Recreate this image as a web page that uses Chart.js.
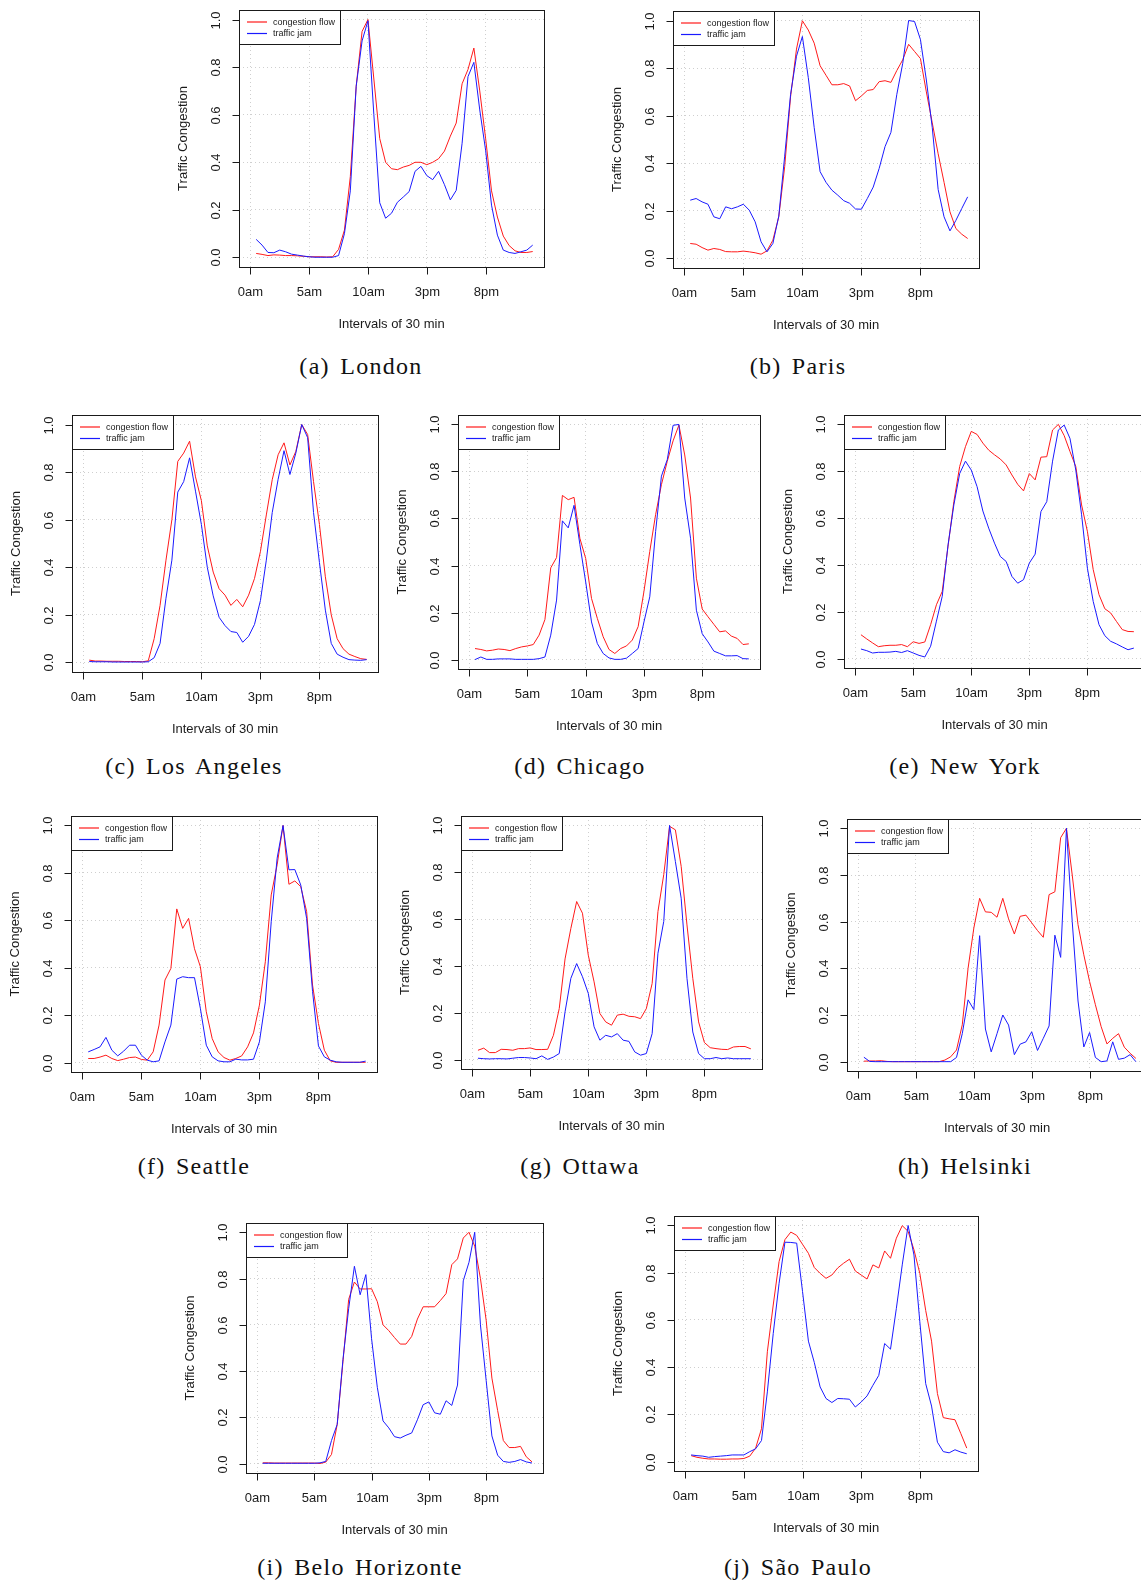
<!DOCTYPE html>
<html><head><meta charset="utf-8">
<script src="https://cdn.jsdelivr.net/npm/chart.js@4.4.0/dist/chart.umd.min.js"></script>
<style>
html,body{margin:0;padding:0;background:#fff;width:1141px;height:1585px;overflow:hidden;position:relative}
canvas{position:absolute}
.cap{position:absolute;font-family:"Liberation Serif","Times New Roman",serif;font-size:24px;color:#111;white-space:pre;transform:translate(-50%,-50%);letter-spacing:1.3px;word-spacing:3px}
</style></head><body>
<script>
// ---- data ----
const xValues = [1,2,3,4,5,6,7,8,9,10,11,12,13,14,15,16,17,18,19,20,21,22,23,24,25,26,27,28,29,30,31,32,33,34,35,36,37,38,39,40,41,42,43,44,45,46,47,48];
const xTickValues = [0,10,20,30,40];
const xTickLabels = ['0am','5am','10am','3pm','8pm'];
const yTickValues = [0,0.2,0.4,0.6,0.8,1.0];
const yTickLabels = ['0.0','0.2','0.4','0.6','0.8','1.0'];
const seriesNames = ['congestion flow','traffic jam'];
const xTitle = 'Intervals of 30 min';
const yTitle = 'Traffic Congestion';
const cityNames = ['London','Paris','Los Angeles','Chicago','New York','Seattle','Ottawa','Helsinki','Belo Horizonte','São Paulo'];
const panelLetters = ['a','b','c','d','e','f','g','h','i','j'];

const londonFlow = [0.017,0.013,0.008,0.011,0.010,0.008,0.008,0.007,0.005,0.003,0.003,0.003,0.002,0.003,0.034,0.115,0.34,0.72,0.95,1.0,0.75,0.50,0.40,0.373,0.369,0.38,0.387,0.40,0.40,0.39,0.40,0.415,0.447,0.51,0.565,0.73,0.79,0.88,0.70,0.50,0.28,0.17,0.09,0.05,0.028,0.021,0.021,0.025];
const londonJam = [0.076,0.052,0.021,0.020,0.031,0.024,0.014,0.010,0.006,0.003,0.001,0.001,0.001,0.001,0.008,0.10,0.28,0.72,0.91,0.995,0.60,0.23,0.165,0.186,0.232,0.254,0.277,0.362,0.383,0.344,0.327,0.362,0.306,0.242,0.282,0.48,0.76,0.82,0.62,0.45,0.22,0.094,0.031,0.021,0.017,0.024,0.031,0.052];
const parisFlow = [0.063,0.06,0.046,0.035,0.042,0.038,0.029,0.028,0.028,0.031,0.028,0.024,0.018,0.032,0.077,0.175,0.386,0.68,0.88,0.999,0.96,0.905,0.81,0.77,0.73,0.73,0.735,0.725,0.663,0.683,0.706,0.71,0.743,0.747,0.74,0.79,0.835,0.9,0.87,0.84,0.70,0.57,0.44,0.32,0.196,0.126,0.102,0.084];
const parisJam = [0.245,0.252,0.238,0.228,0.175,0.167,0.217,0.209,0.217,0.228,0.203,0.154,0.07,0.028,0.063,0.178,0.43,0.69,0.85,0.933,0.76,0.55,0.365,0.32,0.287,0.266,0.243,0.232,0.208,0.207,0.252,0.3,0.378,0.47,0.53,0.69,0.82,1.0,0.996,0.92,0.75,0.55,0.29,0.175,0.116,0.16,0.21,0.259];
const laFlow = [0.01,0.006,0.006,0.005,0.005,0.005,0.004,0.004,0.004,0.003,0.007,0.1,0.24,0.43,0.6,0.845,0.88,0.93,0.78,0.68,0.49,0.38,0.31,0.283,0.24,0.265,0.234,0.283,0.353,0.466,0.62,0.768,0.873,0.923,0.83,0.887,1.0,0.958,0.76,0.58,0.36,0.2,0.1,0.058,0.035,0.025,0.016,0.013];
const laJam = [0.004,0.003,0.003,0.003,0.002,0.002,0.002,0.002,0.002,0.002,0.003,0.02,0.08,0.27,0.43,0.716,0.76,0.86,0.72,0.58,0.40,0.28,0.19,0.155,0.13,0.126,0.085,0.11,0.16,0.26,0.43,0.63,0.77,0.89,0.79,0.88,1.0,0.945,0.63,0.42,0.22,0.08,0.035,0.022,0.012,0.01,0.009,0.012];
const chicagoFlow = [0.047,0.043,0.037,0.04,0.045,0.043,0.038,0.047,0.054,0.058,0.064,0.104,0.17,0.39,0.434,0.698,0.68,0.69,0.516,0.43,0.26,0.175,0.097,0.043,0.026,0.047,0.058,0.083,0.14,0.29,0.46,0.616,0.744,0.843,0.93,0.997,0.87,0.687,0.346,0.215,0.182,0.15,0.118,0.122,0.1,0.09,0.064,0.067];
const chicagoJam = [0,0.011,0.001,0.001,0.003,0.003,0.003,0.001,0.001,0.001,0.001,0.004,0.011,0.104,0.253,0.59,0.56,0.656,0.49,0.33,0.16,0.068,0.026,0.007,0.001,0.001,0.006,0.026,0.047,0.16,0.267,0.544,0.78,0.85,0.996,1.0,0.687,0.516,0.21,0.11,0.075,0.036,0.026,0.016,0.016,0.017,0.004,0.003];
const newYorkFlow = [0.102,0.084,0.067,0.051,0.055,0.057,0.057,0.06,0.051,0.072,0.065,0.071,0.145,0.23,0.287,0.48,0.67,0.82,0.905,0.97,0.957,0.92,0.89,0.87,0.852,0.827,0.784,0.744,0.716,0.79,0.763,0.86,0.862,0.976,1.0,0.952,0.884,0.82,0.656,0.543,0.38,0.273,0.213,0.195,0.159,0.124,0.116,0.115];
const newYorkJam = [0.041,0.034,0.024,0.027,0.027,0.028,0.031,0.026,0.034,0.024,0.014,0.007,0.053,0.16,0.266,0.486,0.656,0.79,0.843,0.805,0.734,0.63,0.557,0.493,0.436,0.415,0.351,0.322,0.337,0.408,0.446,0.628,0.67,0.843,0.976,0.997,0.94,0.805,0.614,0.386,0.244,0.145,0.098,0.074,0.063,0.05,0.038,0.045];
const seattleFlow = [0.017,0.017,0.023,0.031,0.017,0.008,0.014,0.021,0.023,0.013,0.01,0.045,0.158,0.348,0.397,0.648,0.566,0.608,0.48,0.404,0.214,0.101,0.045,0.021,0.01,0.017,0.028,0.066,0.125,0.242,0.425,0.707,0.834,1.0,0.752,0.766,0.742,0.637,0.327,0.165,0.052,0.007,0.001,0.001,0.001,0.001,0.001,0.001];
const seattleJam = [0.045,0.055,0.066,0.106,0.052,0.028,0.048,0.073,0.073,0.031,0.01,0.003,0.007,0.087,0.158,0.352,0.362,0.358,0.358,0.228,0.073,0.024,0.007,0.003,0.003,0.014,0.011,0.011,0.014,0.087,0.256,0.594,0.862,1.0,0.813,0.814,0.749,0.608,0.3,0.07,0.024,0.01,0.003,0.001,0.001,0.001,0.001,0.006];
const ottawaFlow = [0.04,0.049,0.03,0.03,0.044,0.043,0.04,0.047,0.047,0.05,0.043,0.043,0.044,0.104,0.218,0.43,0.56,0.675,0.625,0.446,0.332,0.197,0.161,0.147,0.19,0.194,0.185,0.183,0.175,0.218,0.325,0.632,0.79,0.996,0.981,0.825,0.575,0.347,0.161,0.073,0.051,0.047,0.044,0.043,0.054,0.056,0.056,0.046];
const ottawaJam = [0.006,0.004,0.003,0.004,0.004,0.003,0.006,0.009,0.009,0.007,0.004,0.016,0.001,0.011,0.026,0.204,0.347,0.41,0.354,0.283,0.14,0.083,0.104,0.097,0.111,0.083,0.078,0.033,0.019,0.026,0.111,0.454,0.59,1.0,0.846,0.689,0.347,0.118,0.026,0.004,0.004,0.009,0.004,0.007,0.004,0.004,0.004,0.004];
const helsinkiFlow = [0.002,0.003,0.003,0.004,0.001,0,0,0,0,0,0,0,0,0,0.007,0.021,0.05,0.158,0.4,0.573,0.70,0.642,0.64,0.619,0.70,0.612,0.547,0.623,0.628,0.595,0.562,0.533,0.716,0.728,0.96,1.0,0.80,0.587,0.458,0.344,0.244,0.15,0.076,0.1,0.12,0.062,0.036,0.014];
const helsinkiJam = [0.019,0.001,0,0,0,0,0,0,0,0,0,0,0,0,0,0,0.018,0.12,0.265,0.223,0.54,0.14,0.042,0.12,0.2,0.157,0.03,0.075,0.085,0.128,0.048,0.1,0.153,0.542,0.447,1.0,0.6,0.26,0.063,0.125,0.018,0,0.003,0.085,0.01,0.015,0.03,0];
const beloHorizonteFlow = [0.004,0.004,0.003,0.003,0.003,0.003,0.003,0.003,0.003,0.003,0.001,0.007,0.04,0.17,0.44,0.71,0.785,0.755,0.755,0.756,0.70,0.60,0.575,0.545,0.517,0.517,0.55,0.625,0.678,0.678,0.678,0.705,0.735,0.86,0.885,0.975,1.0,0.94,0.80,0.62,0.37,0.23,0.1,0.07,0.07,0.075,0.03,0.008];
const beloHorizonteJam = [0.002,0.002,0.002,0.002,0.002,0.002,0.002,0.002,0.002,0.002,0.004,0.01,0.1,0.17,0.45,0.67,0.853,0.73,0.817,0.54,0.33,0.185,0.155,0.117,0.111,0.123,0.133,0.19,0.255,0.267,0.22,0.214,0.272,0.252,0.34,0.79,0.87,1.0,0.6,0.36,0.12,0.037,0.01,0.006,0.01,0.018,0.008,0.003];
const saoPauloFlow = [0.025,0.018,0.014,0.011,0.011,0.01,0.01,0.011,0.011,0.013,0.023,0.057,0.139,0.465,0.663,0.847,0.94,0.972,0.958,0.92,0.882,0.822,0.797,0.776,0.79,0.82,0.84,0.857,0.807,0.79,0.773,0.833,0.82,0.892,0.861,0.946,0.999,0.975,0.897,0.797,0.64,0.51,0.288,0.186,0.181,0.177,0.118,0.057];
const saoPauloJam = [0.028,0.025,0.023,0.018,0.021,0.023,0.025,0.028,0.028,0.028,0.042,0.054,0.089,0.295,0.542,0.755,0.929,0.928,0.925,0.72,0.51,0.42,0.316,0.267,0.25,0.267,0.266,0.264,0.231,0.252,0.278,0.323,0.365,0.5,0.476,0.649,0.833,1.0,0.875,0.592,0.33,0.235,0.082,0.042,0.037,0.05,0.04,0.033];

const flowSeries = [londonFlow,parisFlow,laFlow,chicagoFlow,newYorkFlow,seattleFlow,ottawaFlow,helsinkiFlow,beloHorizonteFlow,saoPauloFlow];
const jamSeries = [londonJam,parisJam,laJam,chicagoJam,newYorkJam,seattleJam,ottawaJam,helsinkiJam,beloHorizonteJam,saoPauloJam];

// ---- layout (plot box left, top, width, height) and caption centres ----
const panelBoxes = [[239,10,305,257],[673,11,306,257],[72,415,306,257],[458,415,302,254],[844,415,301,253],[71,816,306,256],[461,816,301,253],[847,819,300,252],[246,1223,297,250],[674,1216,304,255]];
const captionCenters = [[361,366],[798,366],[194,766],[580,766],[965,766],[194,1166],[580,1166],[965,1166],[360,1567],[798,1567]];

const FONT = '"Liberation Sans", Arial, Helvetica, sans-serif';
const INK = '#1a1a1a';
const FLOW_COLOR = '#ff1a1a';
const JAM_COLOR = '#1a1aff';

const rPlot = {
  id: 'rplot',
  afterDraw(chart) {
    const ctx = chart.ctx, a = chart.chartArea, xs = chart.scales.x, ys = chart.scales.y;
    ctx.save();
    ctx.strokeStyle = INK; ctx.lineWidth = 1; ctx.fillStyle = INK;
    const L = Math.round(a.left), T = Math.round(a.top), R = Math.round(a.right), B = Math.round(a.bottom);
    ctx.strokeRect(L + 0.5, T + 0.5, R - L, B - T);
    ctx.font = '13px ' + FONT; ctx.textAlign = 'center'; ctx.textBaseline = 'middle';
    xTickValues.forEach((v, i) => {
      const px = Math.round(xs.getPixelForValue(v)) + 0.5;
      ctx.beginPath(); ctx.moveTo(px, B + 0.5); ctx.lineTo(px, B + 7.5); ctx.stroke();
      ctx.fillText(xTickLabels[i], px, B + 25);
    });
    yTickValues.forEach((v, i) => {
      const py = Math.round(ys.getPixelForValue(v)) + 0.5;
      ctx.beginPath(); ctx.moveTo(L + 0.5, py); ctx.lineTo(L - 6.5, py); ctx.stroke();
      ctx.save(); ctx.translate(L - 23, py); ctx.rotate(-Math.PI / 2);
      ctx.fillText(yTickLabels[i], 0, 0); ctx.restore();
    });
    ctx.font = '13px ' + FONT;
    ctx.fillText(xTitle, (L + R) / 2, B + 57);
    ctx.save(); ctx.translate(L - 56, (T + B) / 2); ctx.rotate(-Math.PI / 2);
    ctx.fillText(yTitle, 0, 0); ctx.restore();
    const lw = 101, lh = 34;
    ctx.fillStyle = '#fff'; ctx.fillRect(L, T, lw, lh);
    ctx.strokeStyle = INK; ctx.strokeRect(L + 0.5, T + 0.5, lw, lh);
    const cols = [FLOW_COLOR, JAM_COLOR];
    const rows = [T + 12, T + 23.5];
    ctx.font = '9px ' + FONT; ctx.textAlign = 'left'; ctx.fillStyle = INK;
    seriesNames.forEach((n, i) => {
      ctx.strokeStyle = cols[i]; ctx.lineWidth = 1.2;
      ctx.beginPath(); ctx.moveTo(L + 8, rows[i]); ctx.lineTo(L + 28, rows[i]); ctx.stroke();
      ctx.fillText(n, L + 34, rows[i] + 0.5);
    });
    ctx.restore();
  }
};

const padL = 75, padT = 8, padR = 8, padB = 75;
cityNames.forEach((city, k) => {
  const [L, T, W, H] = panelBoxes[k];
  const cv = document.createElement('canvas');
  cv.width = W + padL + padR; cv.height = H + padT + padB;
  cv.style.left = (L - padL) + 'px'; cv.style.top = (T - padT) + 'px';
  cv.style.width = cv.width + 'px'; cv.style.height = cv.height + 'px';
  document.body.appendChild(cv);
  const gridOpts = { color: '#cfcfcf', lineWidth: 1, drawTicks: false };
  const borderOpts = { display: false, dash: [1, 3] };
  new Chart(cv.getContext('2d'), {
    type: 'line',
    data: {
      datasets: [
        { label: seriesNames[0], data: xValues.map((x, i) => ({ x: x, y: flowSeries[k][i] })), borderColor: FLOW_COLOR, borderWidth: 1, pointRadius: 0, tension: 0, fill: false, order: 2 },
        { label: seriesNames[1], data: xValues.map((x, i) => ({ x: x, y: jamSeries[k][i] })), borderColor: JAM_COLOR, borderWidth: 1, pointRadius: 0, tension: 0, fill: false, order: 1 }
      ]
    },
    options: {
      responsive: false, animation: false, devicePixelRatio: 1,
      layout: { padding: { left: padL, top: padT, right: padR, bottom: padB } },
      plugins: { legend: { display: false }, tooltip: { enabled: false }, title: { display: false } },
      scales: {
        x: { type: 'linear', min: -1.92, max: 49.92,
             afterBuildTicks: s => { s.ticks = xTickValues.map(v => ({ value: v })); },
             ticks: { display: false }, grid: gridOpts, border: borderOpts },
        y: { type: 'linear', min: -0.04, max: 1.04,
             afterBuildTicks: s => { s.ticks = yTickValues.map(v => ({ value: v })); },
             ticks: { display: false }, grid: gridOpts, border: borderOpts }
      }
    },
    plugins: [rPlot]
  });
  const cap = document.createElement('div');
  cap.className = 'cap';
  cap.textContent = '(' + panelLetters[k] + ') ' + city;
  cap.style.left = captionCenters[k][0] + 'px';
  cap.style.top = captionCenters[k][1] + 'px';
  document.body.appendChild(cap);
});
</script>
</body></html>
